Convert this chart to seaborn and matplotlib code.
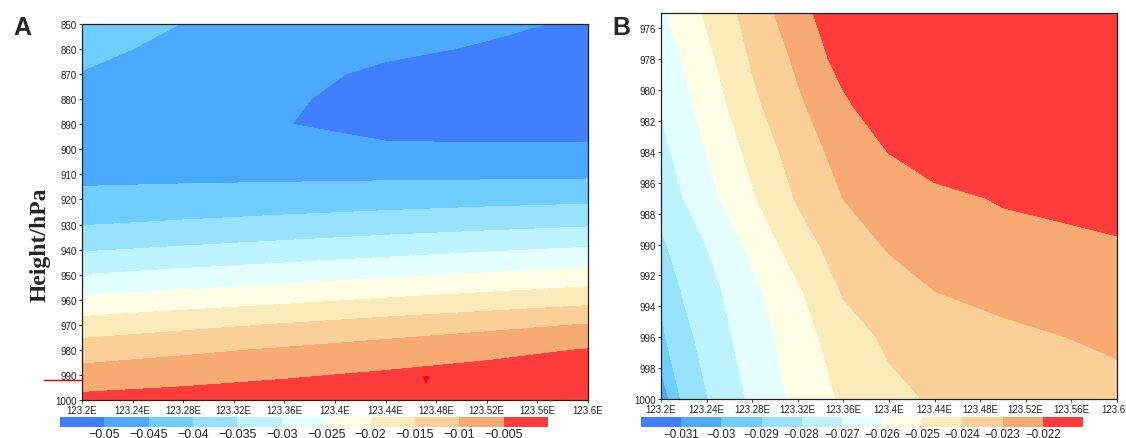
import numpy as np
import pandas as pd
import matplotlib
matplotlib.use("Agg")
import matplotlib.pyplot as plt
import matplotlib.transforms as mtransforms
import seaborn as sns

# ---- data ----
lon_a = [123.2, 123.28, 123.36, 123.44, 123.52, 123.6]
lev_a = [850, 860, 870, 880, 890, 900, 910, 920, 930, 940, 950, 960, 970, 980, 990, 1000]
field_a = [
    [-0.0425, -0.0451, -0.0465, -0.0478, -0.0490, -0.0507],
    [-0.0438, -0.0462, -0.0475, -0.0490, -0.0505, -0.0530],
    [-0.0452, -0.0468, -0.0485, -0.0510, -0.0530, -0.0540],
    [-0.0465, -0.0478, -0.0493, -0.0520, -0.0535, -0.0545],
    [-0.0475, -0.0482, -0.0498, -0.0525, -0.0535, -0.0535],
    [-0.0475, -0.0478, -0.0482, -0.0488, -0.0488, -0.0487],
    [-0.0462, -0.0461, -0.0461, -0.0460, -0.0460, -0.0459],
    [-0.0437, -0.0432, -0.0426, -0.0421, -0.0415, -0.0410],
    [-0.0402, -0.0393, -0.0384, -0.0374, -0.0365, -0.0356],
    [-0.0355, -0.0343, -0.0331, -0.0318, -0.0306, -0.0294],
    [-0.0300, -0.0286, -0.0273, -0.0259, -0.0246, -0.0232],
    [-0.0242, -0.0227, -0.0212, -0.0196, -0.0181, -0.0166],
    [-0.0179, -0.0163, -0.0147, -0.0130, -0.0114, -0.0098],
    [-0.0126, -0.0110, -0.0095, -0.0079, -0.0064, -0.0048],
    [-0.0080, -0.0068, -0.0056, -0.0044, -0.0032, -0.0020],
    [-0.0037, -0.0030, -0.0022, -0.0015, -0.0007, 0.0000],
]

lon_b = [123.2, 123.22, 123.24, 123.28, 123.32, 123.36, 123.40, 123.44, 123.5, 123.6]
lev_b = [975, 978, 981, 984, 987, 990, 993, 996, 1000]
field_b = [
    [-0.0262, -0.02554, -0.02486, -0.02358, -0.02236, -0.0213, -0.0205, -0.0200, -0.0197, -0.0195],
    [-0.02658, -0.02592, -0.02526, -0.0239, -0.02282, -0.0216, -0.0208, -0.0203, -0.0200, -0.0199],
    [-0.02691, -0.02627, -0.02563, -0.02423, -0.02317, -0.0222, -0.02125, -0.0206, -0.0203, -0.0203],
    [-0.02728, -0.02663, -0.02599, -0.02472, -0.02351, -0.02266, -0.02198, -0.0214, -0.0209, -0.0208],
    [-0.02765, -0.02699, -0.02635, -0.02512, -0.0239, -0.02299, -0.02265, -0.02231, -0.0219, -0.0217],
    [-0.02815, -0.02757, -0.02699, -0.02576, -0.02446, -0.02349, -0.0229, -0.0226, -0.0224, -0.02207],
    [-0.0289, -0.0279, -0.02738, -0.02625, -0.02514, -0.02391, -0.02342, -0.0230, -0.0227, -0.02245],
    [-0.02918, -0.02831, -0.02764, -0.0265, -0.02549, -0.02443, -0.02384, -0.0236, -0.02323, -0.02282],
    [-0.03068, -0.02874, -0.02805, -0.02682, -0.02573, -0.02486, -0.02423, -0.02391, -0.02369, -0.02333],
]

levels_a = [-0.05, -0.045, -0.04, -0.035, -0.03, -0.025, -0.02, -0.015, -0.01, -0.005]
levels_b = [-0.031, -0.03, -0.029, -0.028, -0.027, -0.026, -0.025, -0.024, -0.023, -0.022]
cbar_labels_a = ["\u22120.05", "\u22120.045", "\u22120.04", "\u22120.035", "\u22120.03",
                 "\u22120.025", "\u22120.02", "\u22120.015", "\u22120.01", "\u22120.005"]
cbar_labels_b = ["\u22120.031", "\u22120.03", "\u22120.029", "\u22120.028", "\u22120.027",
                 "\u22120.026", "\u22120.025", "\u22120.024", "\u22120.023", "\u22120.022"]

xticks = [123.2, 123.24, 123.28, 123.32, 123.36, 123.4, 123.44, 123.48, 123.52, 123.56, 123.6]
xticklabels = ["123.2E", "123.24E", "123.28E", "123.32E", "123.36E", "123.4E",
               "123.44E", "123.48E", "123.52E", "123.56E", "123.6E"]
yticks_a = [850, 860, 870, 880, 890, 900, 910, 920, 930, 940, 950, 960, 970, 980, 990, 1000]
yticks_b = [976, 978, 980, 982, 984, 986, 988, 990, 992, 994, 996, 998, 1000]

# observation site (red triangle) and its level marker
site_lon = [123.472]
site_p = [992]

colors = ["#4080FF", "#4BAAFF", "#70CDFF", "#97E3FF", "#BDF3FF", "#E3FFFF",
          "#FFFDE4", "#FCEBBA", "#FAD098", "#F7AA72", "#FF3B3B"]

sns.set_style("ticks")
plt.rcParams['font.family'] = ['Liberation Sans Narrow', 'Liberation Sans', 'DejaVu Sans']

fig = plt.figure(figsize=(11.26, 4.39), dpi=100)
ax_a = fig.add_axes([0.0728, 0.0866, 0.4494, 0.8565])
ax_b = fig.add_axes([0.5870, 0.0888, 0.4050, 0.8793])
cax_a = fig.add_axes([0.0533, 0.0251, 0.4334, 0.0228])
cax_b = fig.add_axes([0.5693, 0.0251, 0.3925, 0.0228])


def panel(ax, cax, lon, lev, field, levels, cbar_labels, yticks, ylim, cbar_fs):
    full_levels = [-1.0] + levels + [1.0]
    cf = ax.contourf(lon, lev, np.array(field), levels=full_levels, colors=colors)
    ax.set_xlim(123.2, 123.6)
    ax.set_ylim(*ylim)
    ax.set_xticks(xticks)
    ax.set_xticklabels(xticklabels)
    ax.set_yticks(yticks)
    ax.set_yticklabels([str(t) for t in yticks])
    ax.tick_params(labelsize=7, length=2.5, width=0.6, pad=1, colors="#222222")
    for s in ax.spines.values():
        s.set_linewidth(0.9)
        s.set_color("#222222")
    cb = fig.colorbar(cf, cax=cax, orientation='horizontal', ticks=levels)
    cb.set_ticklabels(cbar_labels)
    cb.outline.set_visible(False)
    cax.tick_params(length=0, labelsize=cbar_fs, pad=0.5)
    for t in cax.get_xticklabels():
        t.set_family(['Liberation Sans', 'DejaVu Sans'])
    return cf


panel(ax_a, cax_a, lon_a, lev_a, field_a, levels_a, cbar_labels_a, yticks_a, (1000, 850), 9)
panel(ax_b, cax_b, lon_b, lev_b, field_b, levels_b, cbar_labels_b, yticks_b, (1000, 975), 8.3)

# site marker
site = pd.DataFrame({"lon": site_lon, "p": site_p})
sns.scatterplot(data=site, x="lon", y="p", marker="v", color="#FF0000", s=30,
                edgecolor="none", ax=ax_a, zorder=5)
ax_a.set_xlabel("")
ax_a.set_ylabel("")

# red level line to the left of panel A
trans = mtransforms.blended_transform_factory(ax_a.transAxes, ax_a.transData)
ax_a.plot([-0.075, 0.0], [site_p[0], site_p[0]], color="#E00000", lw=1.0,
          transform=trans, clip_on=False)

fig.text(40 / 1126, 1 - 245 / 439, "Height/hPa", rotation=90, ha="center", va="center",
         fontsize=17, fontweight="bold", family=["Liberation Serif", "DejaVu Serif"])
fig.text(22 / 1126, 1 - 28 / 439, "A", ha="center", va="center", fontsize=18,
         fontweight="bold", family=["Liberation Sans", "DejaVu Sans"])
fig.text(621 / 1126, 1 - 28 / 439, "B", ha="center", va="center", fontsize=18,
         fontweight="bold", family=["Liberation Sans", "DejaVu Sans"])

fig.savefig("out.png", dpi=100)
